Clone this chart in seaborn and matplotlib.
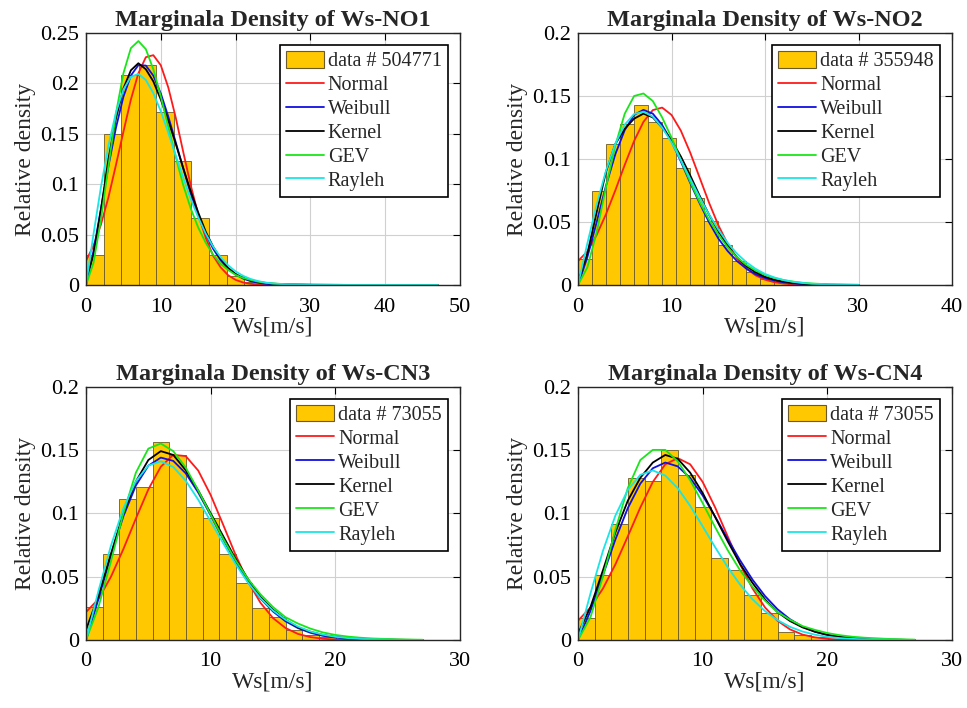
import numpy as np
import pandas as pd
import matplotlib
matplotlib.use("Agg")
import matplotlib.pyplot as plt
import seaborn as sns
from matplotlib.patches import Patch
from matplotlib.lines import Line2D

# ---------------- data ----------------
titles = ["Marginala Density of Ws-NO1", "Marginala Density of Ws-NO2",
          "Marginala Density of Ws-CN3", "Marginala Density of Ws-CN4"]
data_labels = ["data # 504771", "data # 355948", "data # 73055", "data # 73055"]
curve_names = ["Normal", "Weibull", "Kernel", "GEV", "Rayleh"]

# histogram ranges (upper edge of last bin) and relative bar heights
NO1_binmax = 47.0
NO1_bars = [0.030, 0.150, 0.208, 0.218, 0.172, 0.123, 0.0665, 0.030, 0.009, 0.003,
            0.001, 0.0004, 0.0002, 0.0001, 0, 0, 0, 0, 0, 0]
NO2_binmax = 30.0
NO2_bars = [0.021, 0.075, 0.112, 0.128, 0.143, 0.129, 0.117, 0.093, 0.069, 0.051,
            0.032, 0.019, 0.010, 0.005, 0.0025, 0.001, 0.0005, 0.0002, 0.0001, 0]
CN3_binmax = 26.7
CN3_bars = [0.026, 0.068, 0.111, 0.121, 0.156, 0.146, 0.105, 0.096, 0.068, 0.045,
            0.0255, 0.018, 0.008, 0.004, 0.002, 0.001, 0.0005, 0.0002, 0.0001, 0]
CN4_binmax = 26.7
CN4_bars = [0.017, 0.051, 0.0915, 0.128, 0.1256, 0.1496, 0.130, 0.105, 0.065, 0.055,
            0.0355, 0.0215, 0.0066, 0.004, 0.002, 0.001, 0.0005, 0.0002, 0.0001, 0]

# fitted curves sampled at the x positions
NO1_x = [0, 1, 2, 3, 4, 5, 6, 7, 8, 9, 10, 11, 12, 13, 14, 15, 16, 17, 18, 19, 20,
         21, 22, 23, 24, 25, 27, 30, 35, 40, 47]
NO1_normal = [0.024, 0.039, 0.060, 0.087, 0.119, 0.152, 0.184, 0.210, 0.226, 0.228, 0.218,
              0.196, 0.166, 0.132, 0.099, 0.070, 0.047, 0.029, 0.0175, 0.0097, 0.0051,
              0.0025, 0.0012, 0.0005, 0.0002, 0.0001, 0, 0, 0, 0, 0]
NO1_weibull = [0, 0.0337, 0.0757, 0.1179, 0.1558, 0.1867, 0.2078, 0.2181, 0.2177, 0.2077,
               0.190, 0.1671, 0.1415, 0.1155, 0.0908, 0.0690, 0.0506, 0.0359, 0.0245,
               0.0162, 0.0104, 0.0064, 0.0038, 0.0022, 0.0012, 0.0006, 0.0002, 0.0001, 0, 0, 0]
NO1_kernel = [0.005, 0.030, 0.075, 0.125, 0.165, 0.195, 0.213, 0.220, 0.214, 0.202, 0.184,
              0.163, 0.140, 0.116, 0.093, 0.072, 0.053, 0.038, 0.026, 0.017, 0.011,
              0.007, 0.0045, 0.003, 0.002, 0.0013, 0.0006, 0.0003, 0.0001, 0.0001, 0]
NO1_gev = [0, 0.022, 0.065, 0.118, 0.170, 0.210, 0.235, 0.242, 0.234, 0.214, 0.187,
           0.157, 0.127, 0.099, 0.076, 0.057, 0.042, 0.030, 0.021, 0.015, 0.010,
           0.007, 0.005, 0.0033, 0.0022, 0.0015, 0.0007, 0.0003, 0.0001, 0.0001, 0]
NO1_rayleigh = [0, 0.0503, 0.0973, 0.1383, 0.1710, 0.1939, 0.2066, 0.2094, 0.2034, 0.1904,
                0.1724, 0.1511, 0.1284, 0.1063, 0.0854, 0.0671, 0.0510, 0.0379, 0.0275,
                0.0195, 0.0135, 0.0091, 0.0060, 0.0039, 0.0024, 0.0015, 0.0005, 0.0001, 0, 0, 0]

NO2_x = [0, 1, 2, 3, 4, 5, 6, 7, 8, 9, 10, 11, 12, 13, 14, 15, 16, 17, 18, 19, 20,
         21, 22, 23, 24, 25, 27, 30]
NO2_normal = [0.019, 0.0266, 0.0398, 0.0563, 0.0753, 0.0954, 0.1143, 0.1295, 0.1388, 0.1408,
              0.1350, 0.1225, 0.1051, 0.0854, 0.0656, 0.0476, 0.0327, 0.0213, 0.0131,
              0.0076, 0.0042, 0.0022, 0.0011, 0.0005, 0.0002, 0.0001, 0, 0]
NO2_weibull = [0, 0.022, 0.050, 0.079, 0.104, 0.123, 0.135, 0.139, 0.136, 0.127, 0.114,
               0.098, 0.081, 0.065, 0.050, 0.037, 0.027, 0.019, 0.013, 0.0085, 0.0055,
               0.0035, 0.0021, 0.0013, 0.0008, 0.0004, 0.0001, 0]
NO2_kernel = [0.002, 0.025, 0.058, 0.090, 0.112, 0.124, 0.132, 0.136, 0.133, 0.125, 0.115,
              0.102, 0.087, 0.071, 0.056, 0.043, 0.031, 0.022, 0.015, 0.010, 0.0065,
              0.0042, 0.0027, 0.0017, 0.001, 0.0006, 0.0002, 0]
NO2_gev = [0, 0.014, 0.042, 0.078, 0.111, 0.136, 0.150, 0.152, 0.146, 0.133, 0.117,
           0.099, 0.082, 0.066, 0.052, 0.040, 0.030, 0.022, 0.016, 0.0115, 0.008,
           0.0056, 0.0039, 0.0027, 0.0018, 0.0012, 0.0005, 0.0002]
NO2_rayleigh = [0, 0.0330, 0.0639, 0.0908, 0.1123, 0.1273, 0.1357, 0.1375, 0.1336, 0.1250,
                0.1132, 0.0992, 0.0843, 0.0698, 0.0561, 0.0441, 0.0335, 0.0249, 0.0181,
                0.0128, 0.0088, 0.0060, 0.0039, 0.0025, 0.0016, 0.0010, 0.0004, 0.0001]

CN3_x = [0, 1, 2, 3, 4, 5, 6, 7, 8, 9, 10, 11, 12, 13, 14, 15, 16, 17, 18, 19, 20,
         21, 22, 23, 25, 27]
CN3_normal = [0.022, 0.0323, 0.0499, 0.0718, 0.0958, 0.1188, 0.1367, 0.1461, 0.1451, 0.1337,
              0.1144, 0.0910, 0.0671, 0.0460, 0.0293, 0.0173, 0.0095, 0.0048, 0.0023,
              0.0010, 0.0004, 0.0002, 0.0001, 0, 0, 0]
CN3_weibull = [0, 0.0323, 0.0668, 0.0977, 0.1219, 0.1375, 0.1439, 0.1413, 0.1315, 0.1164,
               0.0984, 0.0796, 0.0617, 0.0458, 0.0327, 0.0225, 0.0148, 0.0094, 0.0057,
               0.0033, 0.0019, 0.0010, 0.0005, 0.0003, 0.0001, 0]
CN3_kernel = [0.008, 0.035, 0.068, 0.100, 0.125, 0.142, 0.149, 0.146, 0.134, 0.118, 0.100,
              0.082, 0.064, 0.048, 0.034, 0.024, 0.016, 0.010, 0.0065, 0.004, 0.0025,
              0.0015, 0.0009, 0.0005, 0.0002, 0]
CN3_gev = [0, 0.026, 0.062, 0.100, 0.132, 0.151, 0.155, 0.149, 0.136, 0.118, 0.099,
           0.080, 0.063, 0.048, 0.036, 0.026, 0.018, 0.013, 0.009, 0.006, 0.004,
           0.0027, 0.0018, 0.0012, 0.0005, 0.0002]
CN3_rayleigh = [0, 0.0388, 0.0744, 0.1039, 0.1253, 0.1376, 0.1410, 0.1365, 0.1257, 0.1107,
                0.0936, 0.0764, 0.0599, 0.0452, 0.0330, 0.0233, 0.0160, 0.0106, 0.0067,
                0.0042, 0.0025, 0.0015, 0.0008, 0.0005, 0.0001, 0]

CN4_x = [0, 1, 2, 3, 4, 5, 6, 7, 8, 9, 10, 11, 12, 13, 14, 15, 16, 17, 18, 19, 20,
         21, 22, 23, 25, 27]
CN4_normal = [0.0152, 0.0257, 0.0406, 0.0597, 0.0819, 0.1046, 0.1247, 0.1386, 0.1435, 0.1386,
              0.1247, 0.1046, 0.0819, 0.0597, 0.0406, 0.0257, 0.0152, 0.0084, 0.0043,
              0.0021, 0.0009, 0.0004, 0.0002, 0, 0, 0]
CN4_weibull = [0, 0.0229, 0.0512, 0.0793, 0.1042, 0.1234, 0.1355, 0.1400, 0.1370, 0.1278,
               0.1140, 0.0974, 0.0798, 0.0629, 0.0476, 0.0347, 0.0243, 0.0164, 0.0106,
               0.0066, 0.0040, 0.0023, 0.0013, 0.0007, 0.0002, 0]
CN4_kernel = [0.005, 0.026, 0.055, 0.085, 0.110, 0.128, 0.140, 0.146, 0.143, 0.132, 0.116,
              0.097, 0.078, 0.060, 0.045, 0.032, 0.022, 0.015, 0.010, 0.0065, 0.004,
              0.0025, 0.0015, 0.0009, 0.0003, 0]
CN4_gev = [0, 0.018, 0.050, 0.087, 0.120, 0.142, 0.150, 0.150, 0.141, 0.126, 0.108,
           0.089, 0.071, 0.055, 0.042, 0.031, 0.022, 0.016, 0.011, 0.008, 0.0055,
           0.0038, 0.0026, 0.0018, 0.0008, 0.0003]
CN4_rayleigh = [0, 0.0367, 0.0703, 0.0982, 0.1185, 0.1303, 0.1338, 0.1297, 0.1198, 0.1058,
                0.0897, 0.0732, 0.0576, 0.0437, 0.0321, 0.0228, 0.0157, 0.0104, 0.0067,
                0.0042, 0.0025, 0.0015, 0.0009, 0.0005, 0.0002, 0]

# axis ticks
NO1_xticks = [0, 10, 20, 30, 40, 50]
NO1_yticks = [0, 0.05, 0.1, 0.15, 0.2, 0.25]
NO2_xticks = [0, 10, 20, 30, 40]
NO2_yticks = [0, 0.05, 0.1, 0.15, 0.2]
CN_xticks = [0, 10, 20, 30]
CN_yticks = [0, 0.05, 0.1, 0.15, 0.2]

# ---------------- style ----------------
sns.set_theme(style="white")
plt.rcParams["font.family"] = ["Liberation Serif", "DejaVu Serif"]

BAR = "#FFC800"
EDGE = "#6b5a2a"
COLORS = ["#ff1a1a", "#1010e0", "#000000", "#19e619", "#19e6e6"]

fig = plt.figure(figsize=(9.67, 7.08), dpi=100)

W, H = 967.0, 708.0
boxes = [(86, 33, 460, 285), (578, 33, 952, 285), (86, 386.5, 460, 640), (578, 386.5, 952, 640)]

panels = [
    (NO1_binmax, NO1_bars, NO1_x, [NO1_normal, NO1_weibull, NO1_kernel, NO1_gev, NO1_rayleigh], NO1_xticks, NO1_yticks),
    (NO2_binmax, NO2_bars, NO2_x, [NO2_normal, NO2_weibull, NO2_kernel, NO2_gev, NO2_rayleigh], NO2_xticks, NO2_yticks),
    (CN3_binmax, CN3_bars, CN3_x, [CN3_normal, CN3_weibull, CN3_kernel, CN3_gev, CN3_rayleigh], CN_xticks, CN_yticks),
    (CN4_binmax, CN4_bars, CN4_x, [CN4_normal, CN4_weibull, CN4_kernel, CN4_gev, CN4_rayleigh], CN_xticks, CN_yticks),
]

def fmt(v):
    s = ("%.2f" % v).rstrip("0").rstrip(".")
    return s if s else "0"

for i, (binmax, bars, xs, curves, xt, yt) in enumerate(panels):
    l, t, r, b = boxes[i]
    ax = fig.add_axes([l / W, 1 - b / H, (r - l) / W, (b - t) / H])
    edges = np.linspace(0, binmax, len(bars) + 1)
    hist_df = pd.DataFrame({"ws": (edges[:-1] + edges[1:]) / 2, "rel": bars})
    sns.histplot(data=hist_df, x="ws", weights="rel", bins=list(edges), stat="count", ax=ax,
                 color=BAR, edgecolor=EDGE, linewidth=0.6, alpha=1.0)
    for vals, c in zip(curves, COLORS):
        curve_df = pd.DataFrame({"ws": xs, "dens": vals})
        sns.lineplot(data=curve_df, x="ws", y="dens", ax=ax, color=c, linewidth=1.3, legend=False)
    ax.set_xlim(xt[0], xt[-1])
    ax.set_ylim(yt[0], yt[-1])
    ax.set_xticks(xt)
    ax.set_xticklabels([str(v) for v in xt])
    ax.set_yticks(yt)
    ax.set_yticklabels([fmt(v) for v in yt])
    ax.grid(True, color="#d0d0d0", linewidth=0.8)
    ax.set_axisbelow(True)
    ax.tick_params(direction="in", top=True, right=True, length=5, width=0.8,
                   labelsize=16, colors="black")
    ax.tick_params(axis="x", pad=9)
    ax.tick_params(axis="y", pad=5)
    for sp in ax.spines.values():
        sp.set_color("#262626")
        sp.set_linewidth(1.0)
    ax.set_title(titles[i], fontweight="bold", fontsize=17.5, pad=5)
    ax.set_xlabel("Ws[m/s]", fontsize=17, labelpad=0)
    ax.set_ylabel("Relative density", fontsize=17, labelpad=3)
    handles = [Patch(facecolor=BAR, edgecolor=EDGE, linewidth=0.8)] + \
              [Line2D([0], [0], color=c, linewidth=1.3) for c in COLORS]
    labels = [data_labels[i]] + curve_names
    leg = ax.legend(handles, labels, loc="upper right", fontsize=14.5, frameon=True,
                    fancybox=False, edgecolor="black", framealpha=1.0,
                    handlelength=1.9, handleheight=0.9, handletextpad=0.2,
                    labelspacing=0.18, borderpad=0.3, borderaxespad=0.6)
    leg.get_frame().set_linewidth(1.2)

fig.savefig("out.png", dpi=100)
